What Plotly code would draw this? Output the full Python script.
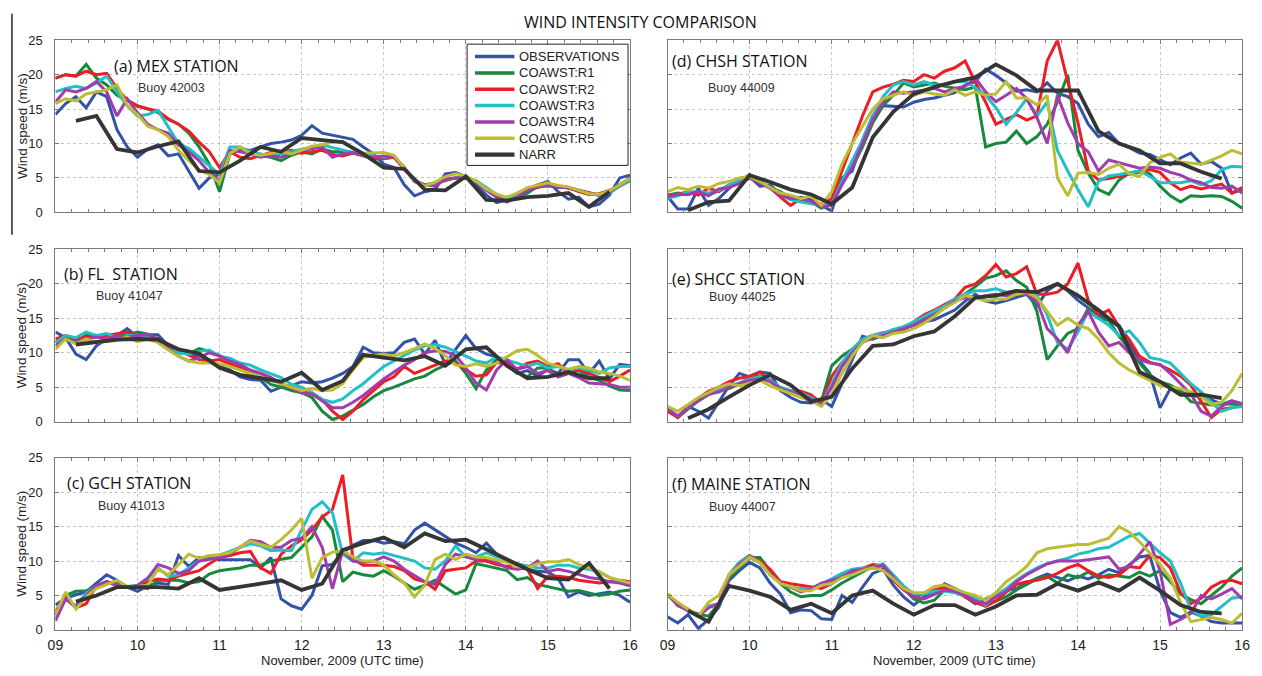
import numpy as np
import plotly.graph_objects as go

W, H = 1262, 676

# ---- time axes (days of November 2009) ----
model_days = 9 + np.arange(57) * 3 / 24          # three-hourly buoy / model values
narr_days = 9.25 + np.arange(27) * 6 / 24        # six-hourly NARR values

SERIES = ["OBSERVATIONS", "COAWST:R1", "COAWST:R2", "COAWST:R3", "COAWST:R4", "COAWST:R5"]
COLORS = ["#3352a8", "#17893d", "#ee1c24", "#22bfc7", "#a23cae", "#bdbd33"]
NARR_COLOR = "#353535"

# ---- (a) MEX station, buoy 42003 ----
obs_a = [14.2, 15.8, 16.8, 15.2, 17.5, 16.8, 12.0, 9.5,
         8.0, 9.2, 9.8, 8.2, 8.5, 6.0, 3.5, 5.0,
         5.5, 8.5, 9.2, 9.0, 9.5, 10.0, 10.2, 10.5,
         11.2, 12.6, 11.5, 11.2, 11.0, 10.6, 9.5, 8.5,
         7.0, 6.5, 4.0, 2.4, 3.0, 3.3, 5.6, 5.8,
         5.2, 4.0, 2.5, 1.4, 1.8, 2.5, 3.3, 4.0,
         4.5, 3.0, 1.9, 2.2, 0.8, 1.2, 2.5, 5.0,
         5.4]
r1_a = [19.5, 20.0, 19.8, 21.5, 19.5, 18.5, 17.0, 16.3,
        15.5, 15.0, 14.5, 13.5, 12.8, 11.5, 9.5, 7.0,
        3.0, 8.5, 9.2, 8.5, 8.2, 8.0, 7.5, 8.3,
        8.8, 8.5, 9.2, 8.8, 8.8, 8.6, 8.2, 7.8,
        7.8, 8.0, 6.5, 4.5, 4.0, 4.2, 4.8, 5.0,
        5.0, 4.5, 3.5, 2.5, 2.0, 2.2, 2.8, 3.8,
        3.8, 3.8, 3.5, 3.2, 2.8, 2.5, 3.0, 4.0,
        5.0]
r2_a = [19.5, 20.0, 19.8, 20.5, 20.0, 20.2, 18.0, 16.3,
        15.4, 15.0, 14.7, 13.6, 12.8, 11.8, 10.2, 8.8,
        6.5, 8.8, 8.0, 7.8, 8.2, 8.7, 8.8, 9.0,
        8.6, 8.8, 9.0, 8.4, 8.2, 8.6, 8.3, 8.0,
        7.9, 8.0, 6.3, 4.6, 4.0, 4.2, 4.6, 5.0,
        5.0, 4.4, 3.4, 2.4, 2.0, 2.6, 3.4, 3.6,
        4.0, 3.6, 3.6, 3.0, 2.6, 2.7, 3.2, 3.8,
        4.6]
r3_a = [17.5, 18.0, 18.3, 18.0, 18.8, 19.8, 17.5, 15.5,
        14.0, 14.2, 14.8, 12.5, 10.0, 9.3, 8.0, 6.8,
        5.5, 9.5, 9.5, 8.8, 8.5, 8.2, 8.5, 8.8,
        9.2, 9.5, 9.8, 9.4, 9.0, 8.7, 8.4, 8.2,
        8.0, 8.2, 6.5, 4.5, 4.0, 4.2, 4.8, 5.0,
        5.1, 4.6, 3.6, 2.6, 2.0, 2.4, 3.4, 3.8,
        4.0, 3.8, 3.6, 3.2, 2.8, 2.4, 2.8, 3.8,
        4.6]
r4_a = [16.0, 17.8, 17.5, 18.0, 19.0, 17.5, 14.0, 16.5,
        14.5, 12.8, 12.0, 11.5, 9.8, 8.8, 7.5, 5.8,
        4.5, 9.0, 8.8, 8.5, 8.0, 8.3, 8.0, 8.6,
        9.0, 9.2, 9.5, 8.0, 8.5, 8.7, 8.2, 8.0,
        8.2, 8.0, 6.5, 4.5, 4.0, 3.8, 4.8, 5.0,
        5.0, 4.4, 3.2, 2.2, 1.5, 2.2, 3.2, 3.8,
        4.0, 3.6, 3.6, 3.2, 2.8, 2.5, 3.0, 4.0,
        5.0]
r5_a = [15.8, 16.5, 16.2, 17.2, 17.5, 17.8, 18.5, 15.5,
        14.2, 12.5, 12.0, 11.0, 9.0, 7.5, 6.2, 5.5,
        4.3, 8.5, 9.5, 8.5, 8.3, 8.5, 8.8, 8.5,
        9.0, 9.6, 9.8, 10.2, 10.3, 9.2, 8.6, 8.6,
        8.7, 8.3, 6.5, 4.6, 3.8, 4.4, 5.2, 5.6,
        5.3, 4.5, 3.4, 2.6, 2.2, 2.8, 3.6, 4.0,
        4.3, 3.9, 3.7, 3.2, 2.7, 2.6, 3.1, 4.0,
        5.0]
narr_a = [13.3, 14.0, 9.2, 8.7, 9.6, 10.3, 6.0, 5.8, 7.5, 9.5, 8.8, 10.8, 10.5, 10.2,
          8.5, 6.5, 6.3, 3.3, 3.2, 5.2, 1.8, 1.7, 2.2, 2.4, 2.8, 0.8, 3.0]

# ---- (b) FL station, buoy 41047 ----
obs_b = [13.0, 12.2, 9.8, 9.0, 11.0, 12.0, 12.5, 13.5,
         12.3, 12.6, 12.6, 11.0, 10.0, 9.9, 9.5, 9.0,
         8.0, 7.5, 6.5, 6.1, 6.0, 4.4, 5.0, 5.2,
         5.8, 5.6, 5.8, 6.3, 7.0, 8.0, 10.8, 10.0,
         9.9, 10.0, 11.5, 12.0, 9.8, 11.8, 8.3, 10.5,
         12.5, 10.6, 9.8, 9.4, 8.2, 7.0, 7.4, 6.6,
         7.6, 7.0, 9.0, 9.0, 7.0, 8.8, 6.2, 8.3,
         8.1]
r1_b = [11.5, 12.3, 11.5, 12.6, 12.3, 12.0, 12.6, 12.6,
        13.0, 12.7, 12.0, 10.8, 10.4, 9.8, 10.6, 10.2,
        9.6, 8.8, 8.2, 7.0, 6.4, 5.4, 5.0, 4.5,
        4.2, 3.5, 1.5, 0.3, 0.8, 1.6, 2.5, 3.6,
        4.5, 5.0, 5.6, 6.2, 6.6, 7.5, 8.2, 8.8,
        7.0, 4.8, 7.5, 9.0, 8.5, 7.2, 6.5, 7.8,
        7.8, 6.5, 7.0, 7.4, 6.5, 6.0, 5.2, 4.6,
        4.5]
r2_b = [12.0, 12.5, 12.0, 12.3, 12.5, 12.5, 12.8, 13.0,
        12.5, 12.5, 12.0, 11.0, 10.3, 9.6, 9.0, 8.8,
        9.0, 8.4, 7.8, 7.4, 7.0, 6.4, 5.5, 5.0,
        4.5, 4.2, 3.2, 1.5, 0.3, 1.5, 3.2, 4.5,
        5.8, 6.5, 8.0, 7.0, 7.6, 8.3, 8.8, 8.5,
        7.5, 6.6, 6.8, 8.6, 8.5, 7.6, 8.5, 8.8,
        8.0, 8.4, 7.0, 7.5, 7.0, 6.4, 5.8, 6.6,
        7.5]
r3_b = [11.5, 12.5, 12.2, 13.0, 12.5, 12.8, 12.2, 12.5,
        12.5, 12.3, 11.5, 10.5, 10.0, 9.8, 10.2, 10.4,
        9.5, 9.2, 8.5, 8.2, 7.5, 7.0, 6.4, 5.4,
        5.0, 4.2, 3.2, 2.8, 3.3, 4.5, 5.5, 6.8,
        8.0, 8.8, 9.6, 10.4, 11.0, 11.2, 10.8, 10.2,
        9.5, 8.8, 8.5, 9.4, 9.0, 8.5, 8.0, 8.5,
        7.8, 8.0, 7.5, 7.8, 7.4, 7.0, 7.8, 8.0,
        8.0]
r4_b = [11.0, 12.0, 11.5, 12.0, 12.3, 12.0, 12.5, 12.3,
        12.5, 12.6, 12.0, 10.5, 9.5, 8.8, 9.3, 10.0,
        9.5, 8.8, 8.3, 7.5, 7.0, 6.4, 5.5, 4.8,
        4.2, 4.0, 3.0, 2.0, 2.0, 2.8, 3.8, 5.0,
        6.2, 7.2, 8.2, 9.0, 10.0, 10.3, 10.2, 9.6,
        7.8, 5.6, 4.6, 7.5, 9.0, 7.6, 8.0, 7.0,
        7.4, 6.5, 7.0, 6.4, 5.6, 5.5, 5.4, 5.0,
        5.0]
r5_b = [10.5, 12.0, 11.3, 12.0, 11.5, 11.6, 11.8, 12.3,
        11.6, 12.0, 11.5, 10.4, 9.5, 8.8, 8.5, 8.5,
        8.4, 8.0, 7.5, 7.0, 6.5, 6.0, 5.5, 5.0,
        4.5, 4.8, 4.5, 4.6, 5.5, 7.5, 9.3, 9.6,
        9.8, 9.5, 10.0, 10.6, 11.3, 10.6, 9.6, 8.2,
        8.0, 8.4, 8.0, 8.5, 9.4, 10.3, 10.5, 9.6,
        8.5, 8.0, 7.6, 8.0, 7.8, 7.2, 7.0, 6.6,
        6.0]
narr_b = [11.2, 11.6, 11.9, 12.0, 11.9, 10.5, 9.9, 7.8, 6.8, 6.3, 5.8, 7.1, 4.6, 5.9,
          9.7, 9.3, 8.9, 9.5, 8.1, 10.5, 10.8, 8.1, 6.3, 6.5, 7.2, 6.3, 6.3]

# ---- (c) GCH station, buoy 41013 ----
obs_c = [3.6, 4.6, 5.1, 5.5, 6.8, 8.0, 7.2, 6.2,
         5.6, 6.4, 6.8, 6.6, 10.8, 9.2, 10.5, 10.5,
         10.2, 10.2, 10.2, 10.2, 9.0, 10.5, 4.5, 3.5,
         3.0, 5.0, 9.3, 9.5, 11.2, 12.3, 13.0, 13.0,
         12.6, 12.8, 12.5, 14.5, 15.5, 14.5, 13.5, 12.6,
         12.0, 11.2, 12.6, 11.0, 10.0, 9.5, 8.8, 8.5,
         8.4, 7.5, 4.8, 5.5, 5.0, 5.3, 5.5, 5.0,
         4.0]
r1_c = [2.2, 5.0, 5.6, 5.7, 6.2, 6.8, 7.0, 6.3,
        6.3, 6.0, 7.2, 7.2, 7.2, 6.8, 7.0, 8.1,
        8.6, 8.8, 9.0, 9.4, 9.4, 10.0, 10.2, 10.5,
        12.0, 13.5, 16.5, 14.5, 7.0, 8.4, 8.0, 7.8,
        8.6, 7.8, 6.8, 5.9, 6.5, 7.2, 6.2, 5.2,
        5.8, 9.6, 9.3, 9.0, 8.6, 7.3, 7.6, 6.6,
        6.3, 6.0, 5.6, 5.7, 5.3, 5.0, 5.2, 5.6,
        5.8]
r2_c = [2.7, 4.6, 3.2, 3.8, 6.4, 7.0, 6.4, 6.2,
        6.4, 7.0, 7.4, 7.2, 7.8, 8.2, 8.6, 9.6,
        10.5, 10.8, 11.2, 11.4, 9.0, 8.2, 11.0, 12.2,
        13.1, 14.5, 16.4, 17.5, 22.5, 10.3, 9.4, 9.4,
        9.4, 9.2, 8.6, 7.4, 7.0, 5.9, 8.6, 8.8,
        9.0, 10.0, 10.0, 9.5, 9.2, 9.6, 8.8, 6.0,
        7.8, 7.8, 7.6, 7.2, 7.0, 6.8, 7.0, 7.2,
        7.0]
r3_c = [1.7, 4.5, 3.5, 5.3, 6.4, 7.0, 6.5, 6.3,
        6.5, 7.5, 9.0, 7.8, 8.0, 9.0, 10.0, 10.3,
        10.8, 11.4, 12.0, 12.5, 12.2, 11.5, 11.6, 11.5,
        14.5, 17.5, 18.6, 17.0, 11.0, 10.0, 11.2, 11.0,
        11.2, 10.8, 10.5, 10.0, 9.0, 8.8, 10.0, 12.2,
        10.6, 10.6, 11.2, 10.6, 10.2, 9.6, 9.3, 9.0,
        9.0, 9.4, 9.4, 9.0, 8.8, 8.4, 7.6, 7.0,
        6.4]
r4_c = [1.3, 4.5, 3.3, 5.0, 6.4, 7.0, 6.6, 6.2,
        6.4, 7.5, 9.5, 9.0, 8.2, 8.6, 10.0, 10.3,
        10.5, 11.0, 12.0, 13.0, 12.8, 12.0, 12.0, 13.0,
        13.3, 15.0, 12.0, 6.0, 11.5, 10.0, 9.8, 10.0,
        10.6, 10.0, 8.8, 7.9, 7.0, 6.6, 9.5, 11.0,
        10.6, 10.2, 10.4, 9.8, 9.0, 8.8, 9.0, 10.0,
        8.5, 8.8, 8.5, 8.0, 7.6, 7.4, 7.0, 6.8,
        6.4]
r5_c = [2.2, 5.5, 3.0, 4.8, 6.0, 6.6, 7.2, 6.3,
        6.3, 6.5, 8.8, 8.0, 9.5, 11.0, 10.4, 10.8,
        10.9, 11.2, 12.0, 12.9, 12.4, 12.0, 13.1, 14.5,
        16.2, 7.5, 10.5, 11.3, 11.5, 10.6, 10.0, 10.0,
        9.4, 8.0, 6.8, 4.8, 6.5, 10.2, 11.0, 10.2,
        11.0, 10.6, 10.5, 10.2, 9.8, 9.2, 9.0, 9.6,
        9.9, 9.9, 10.2, 9.5, 9.0, 8.5, 7.6, 7.2,
        6.8]
narr_c = [4.1, 5.0, 6.2, 6.2, 6.2, 6.0, 7.5, 5.8, 6.2, 6.7, 7.2, 5.8, 6.7, 11.6,
          12.6, 13.4, 12.0, 14.0, 12.9, 13.1, 11.7, 10.2, 8.8, 7.5, 7.3, 9.7, 6.0]

# ---- (d) CHSH station, buoy 44009 ----
obs_d = [2.3, 0.5, 0.5, 3.5, 1.0, 2.0, 3.5, 4.7,
         5.2, 3.8, 4.0, 2.6, 1.9, 2.2, 1.8, 1.0,
         0.2, 5.0, 6.0, 10.5, 14.0, 15.5, 15.4, 15.3,
         16.0, 16.4, 16.6, 17.0, 17.4, 18.5, 19.0, 20.8,
         19.9, 18.8, 17.6, 17.8, 17.5, 18.8, 17.3, 16.8,
         15.8, 12.8, 11.0, 11.6, 10.0, 9.4, 8.6, 8.4,
         7.6, 6.9, 7.9, 8.6, 7.0, 7.4, 6.4, 2.8,
         3.3]
r1_d = [2.5, 2.8, 2.6, 3.0, 2.5, 3.2, 3.8, 4.2,
        5.0, 4.4, 3.6, 3.0, 2.0, 1.6, 1.5, 0.6,
        1.5, 4.5, 6.5, 9.5, 13.0, 15.5, 17.0, 18.8,
        18.2, 18.5, 18.8, 18.3, 18.0, 17.8, 18.2, 9.5,
        10.0, 10.2, 11.8, 10.0, 11.0, 12.8, 16.0, 20.0,
        9.0, 5.7, 3.3, 2.6, 4.7, 5.7, 6.0, 5.6,
        3.8, 2.4, 1.5, 2.4, 2.3, 2.4, 2.3, 1.6,
        0.6]
r2_d = [2.5, 2.6, 3.0, 2.5, 3.5, 3.0, 4.0, 4.5,
        5.0, 4.4, 3.6, 2.2, 1.0, 2.0, 1.4, 1.2,
        2.0, 6.0, 10.0, 14.0, 17.5, 18.2, 18.6, 19.2,
        19.0, 20.0, 19.5, 20.5, 21.0, 22.0, 18.9, 16.0,
        12.8, 13.5, 14.2, 13.4, 14.0, 22.0, 25.0, 19.0,
        13.0, 6.0, 4.7, 4.9, 5.2, 5.5, 5.8, 6.2,
        5.8, 4.3, 3.3, 3.8, 3.4, 3.8, 4.1, 2.8,
        3.6]
r3_d = [2.0, 2.4, 3.0, 3.0, 2.8, 3.2, 4.0, 4.6,
        5.5, 4.6, 3.6, 2.6, 1.8, 1.5, 1.2, 1.0,
        1.2, 4.5, 7.5, 10.5, 14.0, 16.8, 18.5, 19.0,
        18.5, 19.0, 18.5, 18.5, 19.0, 19.0, 18.1, 17.0,
        15.2, 12.8, 14.5, 16.5, 14.0, 16.0, 9.0, 6.0,
        3.3, 0.8, 4.5, 5.3, 5.5, 5.8, 6.0, 5.2,
        4.3, 4.3, 4.3, 4.6, 4.0, 4.6, 6.2, 6.7,
        6.6]
r4_d = [2.3, 2.6, 2.6, 3.0, 2.4, 3.4, 3.6, 4.2,
        5.0, 4.3, 3.5, 2.5, 2.0, 2.0, 1.6, 0.8,
        1.0, 4.0, 6.5, 10.0, 13.5, 16.0, 17.5, 17.3,
        17.5, 17.8, 18.0, 17.5, 18.0, 18.3, 19.5, 17.5,
        16.1, 17.0, 18.0, 16.5, 13.8, 10.0, 17.0, 13.0,
        10.0, 8.8, 6.0, 7.6, 7.2, 6.9, 6.4, 6.6,
        6.4, 5.8, 5.4, 4.7, 4.3, 3.6, 3.5, 3.8,
        2.8]
r5_d = [3.0, 3.6, 3.3, 3.8, 3.5, 4.2, 4.5, 5.0,
        5.2, 4.5, 3.6, 2.8, 2.5, 2.0, 2.4, 1.0,
        3.0, 7.0, 10.0, 12.5, 15.0, 16.5, 17.0, 17.5,
        17.0, 17.5, 17.2, 17.0, 17.8, 17.0, 17.5, 17.0,
        17.2, 19.0, 16.6, 16.6, 15.6, 17.0, 5.0, 2.4,
        5.7, 5.8, 5.5, 6.4, 7.0, 5.6, 5.2, 7.2,
        8.0, 8.5, 7.3, 7.1, 7.0, 7.6, 8.2, 9.0,
        8.5]
narr_d = [0.3, 1.5, 1.7, 5.4, 4.4, 3.3, 2.6, 1.2, 3.6, 10.9, 14.6, 17.2, 18.2, 19.0,
          19.6, 21.5, 19.9, 17.7, 17.7, 17.7, 11.8, 10.0, 9.0, 7.1, 7.1, 5.9, 4.9]

# ---- (e) SHCC station, buoy 44025 ----
obs_e = [2.0, 0.6, 2.2, 1.5, 0.5, 2.9, 5.2, 7.0,
         6.5, 7.2, 7.0, 4.5, 3.5, 2.8, 2.7, 3.2,
         2.2, 5.5, 9.0, 12.4, 12.0, 12.5, 13.3, 13.5,
         14.0, 14.5, 14.8, 15.5, 16.2, 17.5, 18.5, 17.5,
         17.2, 17.6, 18.0, 18.5, 16.8, 19.0, 20.0, 19.0,
         17.6, 16.5, 15.5, 14.7, 14.0, 11.5, 8.8, 7.0,
         2.0, 4.8, 4.3, 3.8, 3.6, 3.2, 2.5, 3.0,
         2.6]
r1_e = [2.0, 0.6, 1.8, 3.0, 3.9, 4.5, 4.8, 5.5,
        6.4, 6.6, 6.0, 4.8, 4.3, 4.0, 3.5, 3.0,
        8.1, 9.5, 10.5, 11.9, 12.0, 12.8, 13.3, 13.5,
        14.2, 15.0, 15.8, 16.5, 17.5, 18.5, 19.6, 20.8,
        21.2, 21.9, 20.5, 19.5, 16.0, 9.0, 11.0, 12.8,
        13.5, 16.5, 15.0, 14.7, 12.4, 10.5, 8.5, 6.8,
        5.8, 5.3, 4.5, 2.9, 2.6, 2.4, 2.6, 2.6,
        2.5]
r2_e = [1.5, 0.6, 2.0, 3.4, 4.4, 5.0, 5.8, 6.3,
        6.6, 7.2, 6.0, 4.8, 4.5, 4.4, 3.9, 2.6,
        6.6, 8.6, 10.2, 11.9, 12.5, 12.9, 13.0, 13.3,
        14.5, 15.5, 16.2, 17.0, 17.8, 19.5, 20.0, 21.2,
        22.8, 21.0, 21.5, 22.5, 18.5, 18.5, 18.8, 20.0,
        23.0, 17.6, 15.5, 16.2, 13.8, 11.9, 9.5, 8.6,
        8.2, 7.5, 6.6, 5.3, 3.0, 0.6, 1.8, 2.0,
        2.5]
r3_e = [2.0, 0.8, 2.0, 3.0, 4.0, 4.6, 5.2, 5.6,
        6.2, 6.5, 6.0, 5.0, 4.5, 4.2, 3.5, 2.5,
        5.5, 8.5, 10.5, 12.0, 12.5, 12.8, 13.4, 13.8,
        14.5, 15.3, 16.0, 16.8, 17.8, 18.5, 19.0, 19.0,
        19.3, 18.8, 19.0, 18.5, 18.3, 15.5, 11.5, 10.5,
        13.0, 16.0, 15.0, 14.0, 12.5, 13.2, 11.5, 9.3,
        9.0, 8.5, 7.0, 5.5, 4.3, 2.8, 1.5, 2.0,
        2.2]
r4_e = [1.8, 0.8, 2.0, 3.0, 4.0, 4.3, 5.0, 5.5,
        6.0, 6.2, 5.8, 4.8, 4.3, 4.0, 3.3, 2.5,
        5.0, 8.0, 10.0, 11.5, 12.2, 12.5, 13.0, 13.5,
        14.0, 14.8, 15.5, 16.5, 17.5, 18.0, 18.0, 18.3,
        18.5, 18.3, 18.5, 18.5, 17.5, 13.5, 12.0, 10.0,
        14.0, 16.0, 13.0, 11.0, 11.5, 10.0, 9.0, 8.5,
        8.3, 7.0, 5.5, 4.0, 1.5, 0.8, 2.2, 3.0,
        2.5]
r5_e = [2.2, 1.5, 2.5, 3.5, 4.2, 5.0, 5.5, 5.2,
        5.5, 6.0, 5.2, 4.6, 4.0, 3.5, 3.0, 2.2,
        4.0, 7.0, 9.5, 11.5, 12.5, 12.2, 12.8, 13.0,
        13.5, 14.3, 15.3, 16.5, 17.3, 18.3, 18.0, 17.5,
        17.8, 17.8, 18.5, 18.8, 18.0, 16.0, 14.0, 15.0,
        14.0, 13.5, 12.0, 10.0, 8.5, 7.5, 6.8, 6.0,
        5.2, 5.0, 4.8, 4.3, 3.6, 2.5, 2.8, 4.5,
        7.0]
narr_e = [0.5, 1.8, 3.6, 5.3, 6.8, 5.3, 2.9, 3.6, 7.7, 11.0, 11.2, 12.4, 13.1, 15.3,
          18.0, 18.3, 19.0, 18.8, 20.0, 18.3, 16.2, 13.8, 7.2, 5.8, 3.9, 3.9, 3.4]

# ---- (f) MAINE station, buoy 44007 ----
obs_f = [1.9, 1.0, 2.2, 0.2, 1.5, 3.3, 7.2, 8.6,
         9.8, 9.0, 6.8, 5.2, 2.5, 2.9, 2.8, 1.6,
         1.5, 5.0, 4.0, 6.2, 8.2, 8.8, 6.5, 4.8,
         3.6, 4.8, 5.2, 6.7, 6.0, 4.8, 3.8, 4.5,
         5.0, 5.7, 6.0, 6.8, 7.5, 8.1, 7.6, 7.1,
         7.8, 7.4, 8.0, 8.8, 8.3, 9.5, 10.6, 10.8,
         5.7, 2.5, 1.8, 2.6, 2.0, 1.2, 1.0, 1.0,
         1.0]
r1_f = [5.2, 3.6, 2.8, 2.3, 2.0, 3.8, 7.5, 9.0,
        10.5, 10.5, 8.6, 6.7, 5.5, 4.8, 5.0, 5.0,
        5.8, 6.8, 7.6, 8.4, 9.2, 9.3, 7.3, 6.0,
        4.5, 3.9, 4.3, 5.8, 6.0, 5.2, 4.3, 3.8,
        4.2, 4.8, 5.8, 6.6, 7.4, 7.8, 6.8, 8.0,
        7.6, 8.4, 7.5, 8.0, 7.8, 7.6, 8.4, 7.8,
        8.6, 7.0, 5.2, 4.4, 3.8, 5.0, 6.2, 7.8,
        9.0]
r2_f = [5.2, 3.5, 3.0, 2.0, 3.4, 3.8, 8.0, 9.8,
        10.8, 10.0, 8.8, 7.0, 6.7, 6.5, 6.3, 6.0,
        6.7, 7.8, 8.4, 9.0, 9.5, 9.3, 7.2, 5.8,
        4.8, 5.2, 5.8, 6.2, 5.6, 4.8, 4.0, 3.4,
        4.2, 5.5, 6.6, 7.0, 7.2, 7.6, 8.2, 9.0,
        9.5, 8.6, 7.8, 7.6, 8.0, 9.2, 9.0, 10.8,
        10.5, 9.0, 5.4, 3.8, 4.6, 6.2, 7.0, 7.2,
        6.7]
r3_f = [5.2, 3.6, 2.8, 2.0, 3.4, 3.8, 8.0, 9.8,
        10.7, 9.8, 8.0, 6.8, 6.2, 6.0, 6.0, 6.6,
        7.4, 8.2, 8.8, 9.0, 9.0, 9.6, 8.0, 6.4,
        5.2, 5.2, 5.6, 5.6, 5.4, 5.0, 4.6, 3.6,
        5.0, 6.0, 7.2, 8.2, 9.0, 9.6, 10.0, 10.4,
        11.0, 11.3, 11.8, 12.0, 12.8, 13.6, 14.0, 12.6,
        11.2, 10.0, 6.8, 2.9, 2.0, 2.2, 3.4, 4.6,
        4.8]
r4_f = [5.2, 3.6, 2.8, 2.0, 3.2, 3.8, 7.8, 9.5,
        10.5, 9.8, 8.0, 6.8, 6.2, 5.5, 6.0, 6.8,
        7.2, 7.6, 8.6, 8.8, 9.0, 9.4, 7.6, 6.0,
        4.8, 4.5, 5.2, 5.8, 5.6, 5.0, 4.2, 3.8,
        4.8, 5.6, 7.0, 8.0, 8.8, 9.6, 10.0, 10.0,
        10.0, 10.2, 10.4, 10.6, 8.8, 9.2, 11.0, 12.8,
        8.6, 0.8, 1.5, 2.4, 5.0, 4.5, 5.2, 6.0,
        4.5]
r5_f = [5.2, 4.0, 3.0, 2.0, 4.0, 5.0, 8.0, 9.2,
        10.5, 9.8, 8.0, 6.7, 6.3, 5.7, 5.7, 6.5,
        6.7, 7.6, 8.0, 8.6, 9.0, 8.6, 7.4, 6.0,
        5.4, 5.4, 6.3, 6.5, 5.9, 5.4, 5.0, 4.3,
        5.4, 7.0, 8.0, 9.2, 11.2, 11.8, 12.0, 12.2,
        12.4, 12.4, 12.8, 13.3, 15.0, 14.2, 12.8, 11.2,
        9.5, 7.5, 4.0, 1.2, 1.5, 1.8, 1.5, 1.0,
        2.4]
narr_f = [2.8, 1.2, 6.4, 5.7, 4.8, 2.9, 3.8, 2.4, 5.0, 5.7, 3.8, 2.2, 3.6, 3.6,
          2.2, 3.4, 5.0, 5.1, 6.7, 5.7, 6.9, 5.7, 7.6, 5.7, 3.6, 2.6, 2.4]

# ---- panel layout (pixel boxes converted to paper fractions) ----
COLS = {"L": (48, 630), "R": (668, 1250)}
ROWS = [(34, 210), (248, 424), (461, 637)]

panels = [
    dict(col="L", row=0, title="(a) MEX STATION", buoy="Buoy 42003", tpos=(105, 60), bpos=(130, 83),
         models=[obs_a, r1_a, r2_a, r3_a, r4_a, r5_a], narr=narr_a),
    dict(col="L", row=1, title="(b) FL&nbsp;&nbsp;STATION", buoy="Buoy 41047", tpos=(55, 273), bpos=(87, 296),
         models=[obs_b, r1_b, r2_b, r3_b, r4_b, r5_b], narr=narr_b),
    dict(col="L", row=2, title="(c) GCH STATION", buoy="Buoy 41013", tpos=(58, 487), bpos=(89, 510),
         models=[obs_c, r1_c, r2_c, r3_c, r4_c, r5_c], narr=narr_c),
    dict(col="R", row=0, title="(d) CHSH STATION", buoy="Buoy 44009", tpos=(671, 55), bpos=(707, 83),
         models=[obs_d, r1_d, r2_d, r3_d, r4_d, r5_d], narr=narr_d),
    dict(col="R", row=1, title="(e) SHCC STATION", buoy="Buoy 44025", tpos=(670, 278), bpos=(708, 297),
         models=[obs_e, r1_e, r2_e, r3_e, r4_e, r5_e], narr=narr_e),
    dict(col="R", row=2, title="(f) MAINE STATION", buoy="Buoy 44007", tpos=(670, 488), bpos=(708, 511),
         models=[obs_f, r1_f, r2_f, r3_f, r4_f, r5_f], narr=narr_f),
]


def px(x):
    return x / W


def py(y):
    return 1 - y / H


TICK_FONT = "Liberation Sans, Arial, sans-serif"
LABEL_FONT = "Open Sans, sans-serif"
AXIS_GREY = "#7a7a7a"
GRID_GREY = "#c4c4c4"

fig = go.Figure()
annotations = []
shapes = []
layout_axes = {}

for i, p in enumerate(panels):
    n = i + 1
    xa = "x" if n == 1 else f"x{n}"
    ya = "y" if n == 1 else f"y{n}"
    first = (n == 1)

    for name, color, vals in zip(SERIES, COLORS, p["models"]):
        fig.add_trace(go.Scatter(
            x=model_days, y=vals, mode="lines", name=name,
            line=dict(color=color, width=3), xaxis=xa, yaxis=ya, showlegend=False))
    fig.add_trace(go.Scatter(
        x=narr_days, y=p["narr"], mode="lines", name="NARR",
        line=dict(color=NARR_COLOR, width=3.8), xaxis=xa, yaxis=ya, showlegend=False))

    x0, x1 = COLS[p["col"]]
    y0, y1 = ROWS[p["row"]]
    bottom = p["row"] == 2
    left = p["col"] == "L"

    common = dict(showline=True, linecolor=AXIS_GREY, linewidth=1, mirror="allticks",
                  ticks="inside", ticklen=4, tickcolor=AXIS_GREY, showgrid=True,
                  gridcolor=GRID_GREY, griddash="dot", gridwidth=1, zeroline=False)

    layout_axes["xaxis" if first else f"xaxis{n}"] = dict(
        common, domain=[px(x0), px(x1)], anchor=ya, range=[9, 16],
        tickvals=list(range(9, 17)), ticktext=["09", "10", "11", "12", "13", "14", "15", "16"],
        showticklabels=bottom, ticklabelstandoff=2,
        tickfont=dict(family=TICK_FONT, size=14, color="#222"),
        minor=dict(dtick=0.2, tick0=9, ticks="inside", ticklen=3, tickcolor=AXIS_GREY, showgrid=False))
    layout_axes["yaxis" if first else f"yaxis{n}"] = dict(
        common, domain=[py(y1), py(y0)], anchor=xa, range=[0, 25],
        tickvals=[0, 5, 10, 15, 20, 25], showticklabels=left, ticklabelstandoff=9,
        tickfont=dict(family=TICK_FONT, size=13, color="#222"))

    annotations.append(dict(text=p["title"], x=px(p["tpos"][0]), y=py(p["tpos"][1]),
                            xref="paper", yref="paper", xanchor="left", yanchor="middle",
                            showarrow=False, font=dict(family=LABEL_FONT, size=16, color="#111")))
    annotations.append(dict(text=p["buoy"], x=px(p["bpos"][0]), y=py(p["bpos"][1]),
                            xref="paper", yref="paper", xanchor="left", yanchor="middle",
                            showarrow=False, font=dict(family=TICK_FONT, size=12.5, color="#333")))
    if left:
        annotations.append(dict(text="Wind speed (m/s)", x=px(14), y=py((y0 + y1) / 2),
                                xref="paper", yref="paper", textangle=-90,
                                xanchor="center", yanchor="middle", showarrow=False,
                                font=dict(family=TICK_FONT, size=13.5, color="#222")))
    if bottom:
        annotations.append(dict(text="November, 2009 (UTC time)", x=px((x0 + x1) / 2), y=py(668),
                                xref="paper", yref="paper", xanchor="center", yanchor="middle",
                                showarrow=False, font=dict(family=TICK_FONT, size=13, color="#222")))

annotations.append(dict(text="WIND INTENSITY COMPARISON", x=px(641), y=py(15), xref="paper", yref="paper",
                        xanchor="center", yanchor="middle", showarrow=False,
                        font=dict(family=LABEL_FONT, size=16, color="#111")))

# ---- legend box drawn inside panel (a) ----
LEG_BOX = (465, 38, 628, 162)
LEG_ROW0, LEG_STEP = 50.7, 16.7
shapes.append(dict(type="rect", xref="paper", yref="paper", layer="above",
                   x0=px(LEG_BOX[0]), x1=px(LEG_BOX[2]), y0=py(LEG_BOX[3]), y1=py(LEG_BOX[1]),
                   line=dict(color="#222", width=1), fillcolor="white"))
legend_entries = list(zip(SERIES, COLORS, [3.5] * 6)) + [("NARR", NARR_COLOR, 4.2)]
for k, (name, color, lw) in enumerate(legend_entries):
    yk = LEG_ROW0 + k * LEG_STEP
    shapes.append(dict(type="line", xref="paper", yref="paper", layer="above",
                       x0=px(473), x1=px(513), y0=py(yk), y1=py(yk),
                       line=dict(color=color, width=lw)))
    annotations.append(dict(text=name, x=px(516), y=py(yk), xref="paper", yref="paper",
                            xanchor="left", yanchor="middle", showarrow=False,
                            font=dict(family=TICK_FONT, size=13, color="#222")))

# thin rule along the left edge of the page
shapes.append(dict(type="line", xref="paper", yref="paper", x0=px(4), x1=px(4), y0=py(7), y1=py(233),
                   line=dict(color="#222", width=1.5)))

fig.update_layout(
    width=W, height=H, margin=dict(l=0, r=0, t=0, b=0),
    paper_bgcolor="white", plot_bgcolor="white",
    showlegend=False,
    annotations=annotations,
    shapes=shapes,
    **layout_axes,
)

fig.write_html("out.html")
